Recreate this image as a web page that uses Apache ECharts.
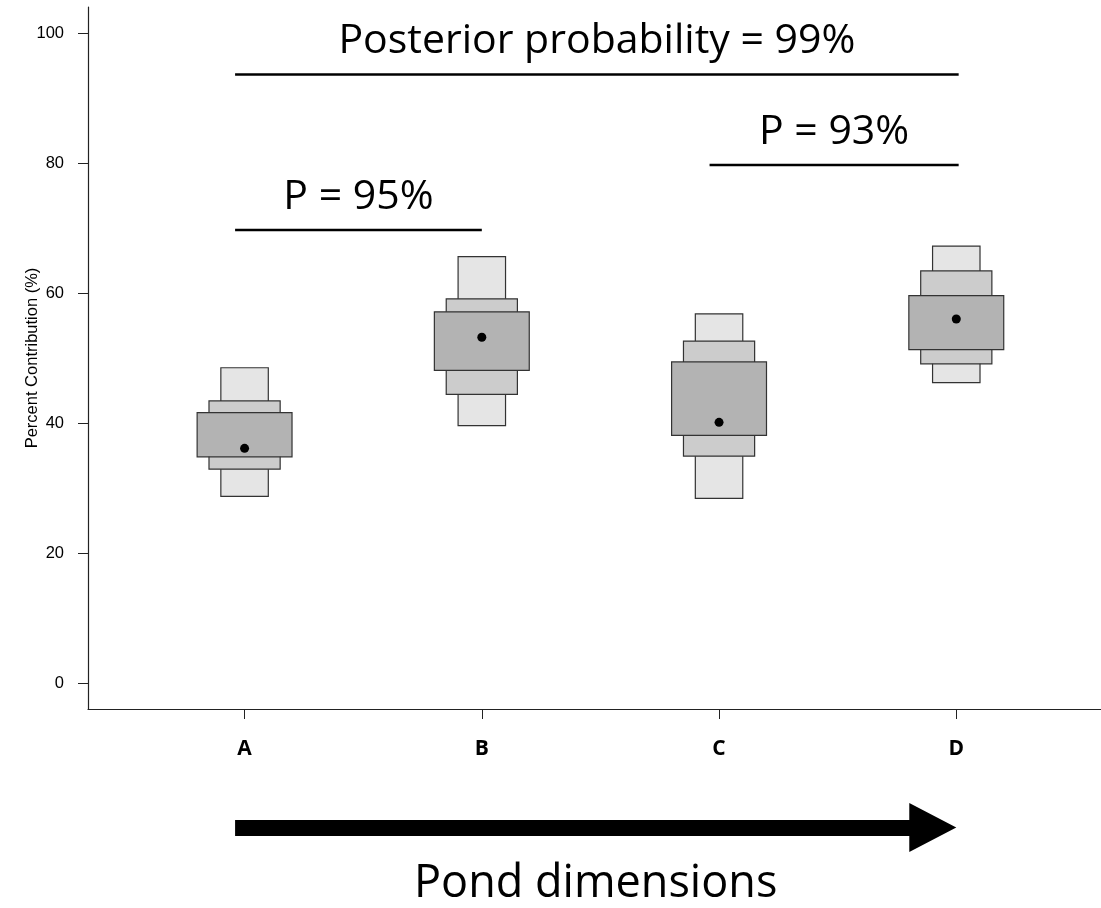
<!DOCTYPE html>
<html>
<head>
<meta charset="utf-8">
<script src="https://cdn.jsdelivr.net/npm/echarts@6/dist/echarts.min.js"></script>
<style>
  html, body { margin: 0; padding: 0; background: #fff; }
  #chart { width: 1101px; height: 908px; }
</style>
</head>
<body>
<div id="chart"></div>
<script>
// Pond groups and their posterior contribution intervals (%)
const categories = ['A', 'B', 'C', 'D'];
const outerLow  = [28.7, 39.6, 28.4, 46.2];
const outerHigh = [48.5, 65.6, 56.8, 67.2];
const midLow    = [32.9, 44.4, 34.9, 49.1];
const midHigh   = [43.4, 59.1, 52.6, 63.4];
const innerLow  = [34.8, 48.1, 38.1, 51.3];
const innerHigh = [41.6, 57.1, 49.4, 59.6];
const modes     = [36.1, 53.2, 40.1, 56.0];

const yTicks = [0, 20, 40, 60, 80, 100];
const xTicks = [1, 2, 3, 4];

// Pairwise comparison brackets: start/end position on the group axis, height, label
const compFrom   = [0.96, 2.96, 0.96];
const compTo     = [4.01, 4.01, 2.00];
const compY      = [93.6, 79.7, 69.7];
const compLabels = ['Posterior probability = 99%', 'P = 93%', 'P = 95%'];

const boxData = categories.map((c, i) => [
  i + 1, outerLow[i], outerHigh[i], midLow[i], midHigh[i], innerLow[i], innerHigh[i], modes[i]
]);
const compData = compLabels.map((l, i) => [compFrom[i], compTo[i], compY[i], l]);

const halfWidths = [0.1, 0.15, 0.2];
const fills = ['#e5e5e5', '#cccccc', '#b3b3b3'];

function renderBox(params, api) {
  const x = api.value(0);
  const children = [];
  for (let k = 0; k < 3; k++) {
    const lo = api.value(1 + k * 2);
    const hi = api.value(2 + k * 2);
    const p1 = api.coord([x - halfWidths[k], hi]);
    const p2 = api.coord([x + halfWidths[k], lo]);
    children.push({
      type: 'rect',
      shape: { x: p1[0], y: p1[1], width: p2[0] - p1[0], height: p2[1] - p1[1] },
      style: { fill: fills[k], stroke: '#333333', lineWidth: 1.2 }
    });
  }
  const m = api.coord([x, api.value(7)]);
  children.push({
    type: 'circle',
    shape: { cx: m[0], cy: m[1], r: 4.5 },
    style: { fill: '#000' }
  });
  return { type: 'group', children };
}

function renderBracket(params, api) {
  const a = api.coord([api.value(0), api.value(2)]);
  const b = api.coord([api.value(1), api.value(2)]);
  const label = compLabels[params.dataIndex];
  return {
    type: 'group',
    children: [
      {
        type: 'line',
        shape: { x1: a[0], y1: a[1], x2: b[0], y2: b[1] },
        style: { stroke: '#000', lineWidth: 2.5 }
      },
      {
        type: 'text',
        x: (a[0] + b[0]) / 2,
        y: a[1] - 33,
        style: {
          text: label,
          fill: '#000',
          font: '41px "Open Sans", sans-serif',
          align: 'center',
          verticalAlign: 'middle'
        }
      }
    ]
  };
}

const chart = echarts.init(document.getElementById('chart'), null, { renderer: 'canvas' });

chart.setOption({
  animation: false,
  backgroundColor: '#fff',
  grid: { left: 88, right: 0, top: 7, bottom: 199, containLabel: false },
  xAxis: {
    type: 'value',
    min: 0.34,
    max: 4.61,
    splitLine: { show: false },
    axisLine: { show: true, onZero: false, lineStyle: { color: '#222', width: 1.2 } },
    axisTick: { show: true, length: 10, customValues: xTicks, lineStyle: { color: '#222' } },
    axisLabel: {
      customValues: xTicks,
      margin: 30,
      formatter: v => categories[Math.round(v) - 1] || '',
      fontFamily: '"Open Sans", sans-serif',
      fontWeight: 'bold',
      fontSize: 21,
      color: '#000'
    }
  },
  yAxis: {
    type: 'value',
    min: -4,
    max: 104,
    name: 'Percent Contribution (%)',
    nameLocation: 'middle',
    nameGap: 47,
    nameMoveOverlap: false,
    nameTextStyle: { fontFamily: '"Liberation Sans", Arial, sans-serif', fontSize: 16.5, color: '#000' },
    splitLine: { show: false },
    axisLine: { show: true, onZero: false, lineStyle: { color: '#222', width: 1.2 } },
    axisTick: { show: true, length: 10, customValues: yTicks, lineStyle: { color: '#222' } },
    axisLabel: {
      customValues: yTicks,
      margin: 24,
      fontFamily: '"Liberation Sans", Arial, sans-serif',
      fontSize: 16.5,
      color: '#000'
    }
  },
  series: [
    {
      type: 'custom',
      name: 'intervals',
      renderItem: renderBox,
      encode: { x: 0, y: [1, 2, 3, 4, 5, 6, 7] },
      data: boxData,
      clip: false,
      silent: true
    },
    {
      type: 'custom',
      name: 'comparisons',
      renderItem: renderBracket,
      encode: { x: [0, 1], y: 2 },
      data: compData,
      clip: false,
      silent: true
    }
  ]
});

// Direction arrow under the axis, spanning the groups, with its caption
const left = chart.convertToPixel({ xAxisIndex: 0 }, 0.96);
const tip = chart.convertToPixel({ xAxisIndex: 0 }, 4.0);
const headStart = tip - 47;
const barTop = 820, barBottom = 836, headTop = 803, headBottom = 852;
chart.setOption({
  graphic: [
    {
      type: 'polygon',
      shape: {
        points: [
          [left, barTop], [headStart, barTop], [headStart, headTop], [tip, (headTop + headBottom) / 2],
          [headStart, headBottom], [headStart, barBottom], [left, barBottom]
        ]
      },
      style: { fill: '#000' }
    },
    {
      type: 'text',
      x: (left + tip) / 2,
      y: 884,
      style: {
        text: 'Pond dimensions',
        fill: '#000',
        font: '45px "Open Sans", sans-serif',
        align: 'center',
        verticalAlign: 'middle'
      }
    }
  ]
});
</script>
</body>
</html>
